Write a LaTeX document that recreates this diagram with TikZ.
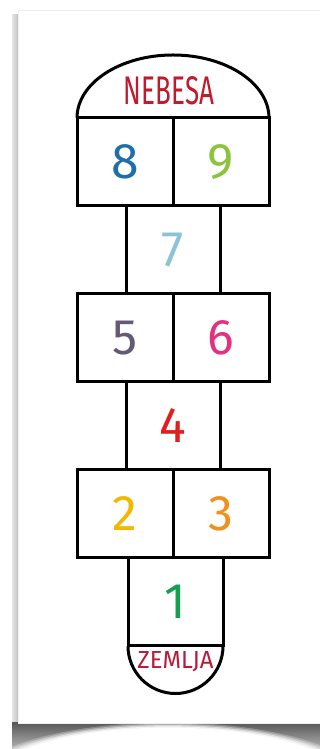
\documentclass[tikz,border=0pt]{standalone}
\usepackage{fontspec}
\usepackage{graphicx}
\usetikzlibrary{positioning,shapes,calc}
\newfontfamily\handfont{Fira Sans}
\definecolor{hsnebo}{RGB}{195,25,45}
\definecolor{hszemlja}{RGB}{180,30,60}
\definecolor{hsone}{RGB}{20,160,80}
\definecolor{hstwo}{RGB}{240,185,0}
\definecolor{hsthree}{RGB}{240,145,30}
\definecolor{hsfour}{RGB}{225,30,30}
\definecolor{hsfive}{RGB}{100,90,120}
\definecolor{hssix}{RGB}{225,50,130}
\definecolor{hsseven}{RGB}{140,195,215}
\definecolor{hseight}{RGB}{30,110,170}
\definecolor{hsnine}{RGB}{140,195,60}

\begin{document}
\begin{tikzpicture}[x=1pt, y=1pt, node distance=0pt,
  cellbox/.style={rectangle, draw=black, line width=3pt, outer sep=0pt, inner sep=0pt,
    minimum width=96pt, minimum height=88pt, font=\handfont\fontsize{50}{50}\selectfont},
  midbox/.style={cellbox, minimum width=94pt}]

  \useasboundingbox (0,0) rectangle (320,749);

  % Card and its shadow
  \fill[white] (0,0) rectangle (320,749);
  \shade[left color=black!10, right color=black!24] (12,0) rectangle (18,734);
  \shade[top color=black!65, bottom color=black!30] (12,0) rectangle (320,26);
  \foreach \r/\o in {200/0.25, 196/0.35, 192/0.5, 188/0.7, 184/1} {
    \fill[white, opacity=\o] (168,-38) ellipse [x radius=\r, y radius=\r/3.1];
  }
  \fill[white, draw=black!6] (18,26) rectangle (330,739);

  % Row 8 / 9
  \node[cellbox, text=hseight] (b8) at (125,587) {8};
  \node[cellbox, text=hsnine, right=of b8] (b9) {9};
  % Single 7
  \node[midbox, text=hsseven, below=of b8.south east] (b7) {7};
  % Row 5 / 6
  \node[cellbox, text=hsfive, below=of b7.south, anchor=north east] (b5) {5};
  \node[cellbox, text=hssix, right=of b5] (b6) {6};
  % Single 4
  \node[midbox, text=hsfour, below=of b5.south east] (b4) {4};
  % Row 2 / 3
  \node[cellbox, text=hstwo, below=of b4.south, anchor=north east] (b2) {2};
  \node[cellbox, text=hsthree, right=of b2] (b3) {3};
  % Single 1
  \node[midbox, minimum width=95pt, text=hsone, below=of b2.south east, xshift=2.5pt] (b1) {1};

  % Heaven and earth
  \draw[line width=3pt] (b8.north west) arc[start angle=180, end angle=0, x radius=96, y radius=63];
  \draw[line width=3pt] (b1.south west) arc[start angle=180, end angle=360, radius=47.5];
  \node[text=hsnebo, inner sep=0pt] (nebesa) at (169,658) {\handfont\resizebox{90pt}{28pt}{NEBESA}};
  \node[text=hszemlja, inner sep=0pt, below=5pt of b1.south] (zemlja) {\handfont\resizebox{76pt}{17pt}{ZEMLJA}};
\end{tikzpicture}
\end{document}
